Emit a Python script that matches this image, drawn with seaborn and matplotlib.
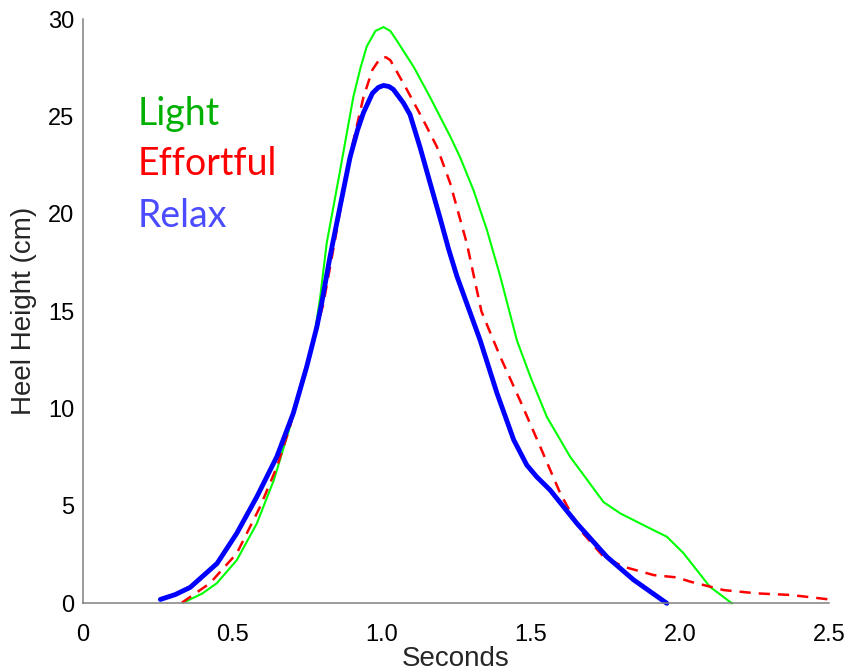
import matplotlib
matplotlib.use("Agg")
import matplotlib.pyplot as plt
import seaborn as sns
import pandas as pd

# ---- data ----
relax_x = [0.26, 0.31, 0.36, 0.45, 0.516, 0.583, 0.65, 0.705, 0.75, 0.784, 0.80, 0.828, 0.862,
           0.895, 0.92, 0.94, 0.97, 0.99, 1.007, 1.025, 1.04, 1.074, 1.096, 1.13, 1.163, 1.20,
           1.225, 1.253, 1.292, 1.331, 1.387, 1.443, 1.487, 1.52, 1.565, 1.655, 1.755, 1.845, 1.956]
relax_y = [0.2, 0.45, 0.82, 2.05, 3.6, 5.47, 7.53, 9.76, 12.15, 14.2, 15.4, 17.8, 20.4,
           22.9, 24.3, 25.2, 26.2, 26.5, 26.6, 26.55, 26.4, 25.7, 25.1, 23.4, 21.6, 19.6,
           18.2, 16.8, 15.15, 13.5, 10.8, 8.4, 7.1, 6.5, 5.82, 4.1, 2.39, 1.2, 0.0]

light_x = [0.343, 0.40, 0.449, 0.516, 0.583, 0.64, 0.694, 0.739, 0.773, 0.795, 0.817, 0.862,
           0.906, 0.93, 0.951, 0.98, 1.007, 1.03, 1.052, 1.108, 1.163, 1.23, 1.264, 1.309, 1.353,
           1.398, 1.426, 1.454, 1.50, 1.554, 1.632, 1.744, 1.80, 1.889, 1.956, 2.012,
           2.10, 2.174]
light_y = [0.08, 0.5, 1.03, 2.22, 4.1, 6.33, 9.07, 11.6, 13.5, 15.7, 18.5, 22.25,
           26.0, 27.5, 28.6, 29.4, 29.6, 29.4, 28.9, 27.56, 26.0, 24.0, 22.9, 21.2, 19.2,
           16.8, 15.15, 13.5, 11.6, 9.58, 7.53, 5.2, 4.62, 3.93, 3.42, 2.57,
           0.85, 0.0]

effort_x = [0.332, 0.426, 0.516, 0.594, 0.65, 0.694, 0.728, 0.773, 0.806, 0.851, 0.895,
            0.94, 0.97, 0.996, 1.015, 1.03, 1.085, 1.141, 1.186, 1.23, 1.286, 1.335, 1.398,
            1.465, 1.532, 1.599, 1.666, 1.744, 1.811, 1.912, 1.99, 2.035, 2.146, 2.258, 2.37, 2.50]
effort_y = [0.03, 1.03, 2.57, 4.96, 7.0, 9.07, 11.1, 13.5, 15.4, 19.2, 23.0,
            26.0, 27.4, 28.0, 28.05, 27.9, 26.4, 24.8, 23.45, 21.6, 18.5, 15.0, 12.67,
            10.4, 8.04, 5.65, 3.76, 2.39, 1.88, 1.45, 1.33, 1.11, 0.68, 0.51, 0.43, 0.2]

labels = ["Light", "Effortful", "Relax"]
label_y = [24.57, 22.0, 19.35]
x_ticks = [0, 0.5, 1.0, 1.5, 2.0, 2.5]
x_tick_labels = ["0", "0.5", "1.0", "1.5", "2.0", "2.5"]
y_ticks = [0, 5, 10, 15, 20, 25, 30]

# ---- plot ----
sns.set_style("white")
plt.rcParams["font.family"] = ["Liberation Sans", "DejaVu Sans"]

fig = plt.figure(figsize=(8.5, 6.72), dpi=100)
ax = fig.add_axes([0.0973, 0.1022, 0.9757 - 0.0973, 0.9713 - 0.1022])

df_light = pd.DataFrame({"x": light_x, "y": light_y})
df_effort = pd.DataFrame({"x": effort_x, "y": effort_y})
df_relax = pd.DataFrame({"x": relax_x, "y": relax_y})

sns.lineplot(data=df_light, x="x", y="y", ax=ax, color="#00FF00", linewidth=1.5,
             sort=False, estimator=None)
sns.lineplot(data=df_effort, x="x", y="y", ax=ax, color="#FF0000", linewidth=1.8,
             sort=False, estimator=None)
sns.lineplot(data=df_relax, x="x", y="y", ax=ax, color="#0000FF", linewidth=3.5,
             sort=False, estimator=None)
lines = ax.get_lines()
lines[1].set_dashes([4.5, 3.2])
for ln in lines:
    ln.set_clip_on(False)
    ln.set_solid_joinstyle("round")

ax.set_xlim(0, 2.5)
ax.set_ylim(0, 30)
ax.set_xticks(x_ticks)
ax.set_xticklabels(x_tick_labels)
ax.set_yticks(y_ticks)

for s in ["top", "right"]:
    ax.spines[s].set_visible(False)
for s in ["left", "bottom"]:
    ax.spines[s].set_color("#808080")
    ax.spines[s].set_linewidth(1.1)

ax.tick_params(axis="both", direction="in", length=5.5, width=0.9, color="#808080",
               labelsize=17, labelcolor="black", pad=6)
ax.tick_params(axis="x", pad=15)

ax.set_xlabel("Seconds", fontsize=20, labelpad=0)
ax.set_ylabel("Heel Height (cm)", fontsize=20, labelpad=8)

text_colors = ["#00B000", "#FF0000", "#4B4BFF"]
for lab, yy, c in zip(labels, label_y, text_colors):
    ax.text(0.183, yy, lab, color=c, fontsize=27, family=["Lato", "DejaVu Sans"],
            ha="left", va="baseline")

fig.savefig("out.png", dpi=100)
